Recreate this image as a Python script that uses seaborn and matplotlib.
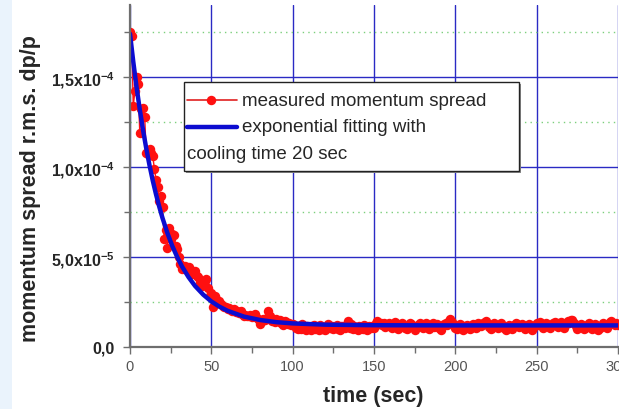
import numpy as np
import pandas as pd
import matplotlib
matplotlib.use("Agg")
import matplotlib.pyplot as plt
import seaborn as sns
from matplotlib.patches import Rectangle
from matplotlib.lines import Line2D

sns.set_style("white")
plt.rcParams['font.family'] = ['Liberation Sans', 'DejaVu Sans']
plt.rcParams['mathtext.fontset'] = 'custom'
plt.rcParams['mathtext.rm'] = 'Liberation Sans'
plt.rcParams['mathtext.bf'] = 'Liberation Sans:bold'
plt.rcParams['mathtext.default'] = 'bf'

# measured momentum spread, units of 1e-5, one sample per second (t = 0..300 s)
measured_early = [17.5, 17.3, 13.4, 14.2, 15.0, 14.6, 11.9, 13.2, 13.3, 12.8,
                  10.8, 10.7, 11.0, 10.8, 10.6, 9.9, 9.3, 8.9, 8.1, 8.4,
                  7.8, 6.0, 6.5, 5.5, 6.6, 6.0, 6.3, 6.2, 5.6, 5.45,
                  5.0, 4.6, 4.35, 4.45, 4.5, 4.3, 4.45, 4.1, 4.05, 4.2,
                  4.2, 3.95, 3.9, 3.6, 3.4]
measured_mid = [3.5, 3.65, 3.8, 3.3, 2.85, 3.0, 2.2, 2.85, 2.65, 2.5,
                2.55, 2.4, 2.3, 2.25, 2.2, 2.1, 2.15, 2.05, 2.0, 2.1,
                1.95, 2.0, 1.9, 2.0, 1.85, 1.7, 1.8, 1.75, 1.7, 1.8,
                1.65, 1.75, 1.85, 1.6, 1.5, 1.28, 1.45, 1.55, 1.5, 1.6,
                2.0, 1.7, 1.45, 1.5, 1.4, 1.55, 1.45, 1.5, 1.35, 1.2,
                1.45, 1.4, 1.3, 1.35, 1.25, 1.3]
measured_tail1 = [1.25, 1.08, 0.98, 1.18, 1.02, 1.3, 1.1, 0.95, 1.18, 1.06,
                  0.92, 1.14, 1.25, 1.02, 1.1, 0.97, 1.2, 1.02, 1.12, 0.95,
                  1.18, 1.28, 1.04, 1.14, 0.98, 1.1, 1.2, 1.02, 0.94, 1.14,
                  1.14, 1.04, 1.18, 1.45, 1.08, 1.28, 1.02, 1.14, 1.04, 0.96,
                  1.18, 1.08, 1.0, 1.2, 1.08, 0.96, 1.14, 1.04, 1.18, 1.05]
measured_tail2 = [1.35, 1.42, 1.28, 1.35, 1.2, 1.32, 1.12, 1.24, 1.35, 1.18,
                  1.06, 1.28, 1.38, 1.2, 1.0, 1.14, 1.32, 1.24, 1.06, 0.98,
                  1.18, 1.36, 1.28, 1.1, 0.95, 1.14, 1.25, 1.36, 1.18, 1.04,
                  1.2, 1.32, 1.14, 1.0, 1.24, 1.36, 1.1, 1.2, 1.3, 1.06,
                  0.96, 1.14, 1.28, 1.36, 1.2, 1.42, 1.55, 1.4, 1.2, 1.06,
                  1.0, 1.18, 1.28, 1.1, 0.95, 1.14, 1.25, 1.06, 0.98, 1.18,
                  1.3, 1.2, 1.06, 1.36, 1.24, 1.14, 1.32, 1.4, 1.46, 1.28,
                  1.1, 1.0, 1.2, 1.32, 1.14, 1.04, 1.24, 1.36, 1.18, 1.06,
                  0.95, 1.1, 1.24, 1.14, 1.0, 1.2, 1.36, 1.28, 1.1, 1.18,
                  1.3, 1.14, 1.0, 1.18, 1.28, 1.1, 0.95, 1.06, 1.2, 1.32,
                  1.24, 1.38, 1.2, 1.06, 1.28, 1.36, 1.18, 1.04, 1.2, 1.32,
                  1.4, 1.24, 1.1, 1.28, 1.38, 1.2, 1.06, 1.28, 1.44, 1.35,
                  1.48, 1.5, 1.35, 1.18, 1.0, 1.14, 1.28, 1.1, 0.98, 1.06,
                  1.2, 1.32, 1.14, 1.0, 1.18, 1.28, 1.1, 0.95, 1.06, 1.24,
                  1.36, 1.2, 1.06, 1.28, 1.4, 1.46, 1.35, 1.2, 1.32, 1.24]
measured = measured_early + measured_mid + measured_tail1 + measured_tail2

# exponential fit (cooling time 20 s), units of 1e-5
fit_t = [0, 2, 4, 6, 8, 10, 12, 14, 16, 18, 20, 23, 26, 29, 32, 36, 40, 45,
         50, 55, 60, 70, 80, 90, 100, 120, 150, 200, 300]
fit_v = [17.4, 15.86, 14.46, 13.2, 12.06, 11.03, 10.09, 9.24, 8.48, 7.79,
         7.16, 6.33, 5.61, 5.0, 4.47, 3.88, 3.39, 2.91, 2.53, 2.24, 2.01,
         1.69, 1.5, 1.38, 1.31, 1.24, 1.21, 1.2, 1.2]

x_ticks = [0, 50, 100, 150, 200, 250, 300]
x_minor = [25, 75, 125, 175, 225, 275]
y_ticks = [0.0, 5e-5, 1e-4, 1.5e-4]
y_minor = [2.5e-5, 7.5e-5, 1.25e-4, 1.75e-4]
y_tick_labels = ["0,0", "5,0x10$^{-5}$", "1,0x10$^{-4}$", "1,5x10$^{-4}$"]

W, H = 619, 410
fig = plt.figure(figsize=(W / 100, H / 100), dpi=100)
fig.patch.set_facecolor('white')
fig.add_artist(Rectangle((0, 0), 12 / W, 1, transform=fig.transFigure,
                         facecolor='#eaf3fc', edgecolor='none', zorder=0))

ax = fig.add_axes([130 / W, (H - 348) / H, 488 / W, 342 / H])

df = pd.DataFrame({'time': np.arange(len(measured)),
                   'spread': np.array(measured) * 1e-5})
dfit = pd.DataFrame({'time': fit_t, 'spread': np.array(fit_v) * 1e-5})

MS = 6.8
sns.lineplot(data=df, x='time', y='spread', ax=ax, color='#ff1010', lw=1.0,
             marker='o', markersize=MS, markeredgewidth=0, zorder=3)
sns.lineplot(data=dfit, x='time', y='spread', ax=ax, color='#0c0cd0', lw=3.2,
             zorder=4)

ax.set_xlim(0, 300)
ax.set_ylim(0, 1.9e-4)
ax.set_xticks(x_ticks)
ax.set_xticks(x_minor, minor=True)
ax.set_yticks(y_ticks)
ax.set_yticks(y_minor, minor=True)
ax.set_xticklabels([str(v) for v in x_ticks], color='#555555', fontsize=10.5)
ax.set_yticklabels(y_tick_labels, fontweight='bold', fontsize=11.5)

ax.set_axisbelow(True)
ax.grid(which='major', color='#2a2ac4', lw=1.0, ls='-')
ax.grid(which='minor', axis='y', color='#7ccf7c', lw=1.0, ls=(0, (1, 3)))

for s in ['top', 'right']:
    ax.spines[s].set_visible(False)
for s in ['left', 'bottom']:
    ax.spines[s].set_color('#6e6e6e')
    ax.spines[s].set_linewidth(1.6)
    ax.spines[s].set_zorder(5)

ax.tick_params(which='both', direction='out', color='#6e6e6e', width=1,
               left=True, bottom=True)
ax.tick_params(which='major', length=5, pad=4)
ax.tick_params(which='minor', length=4)
ax.tick_params(axis='y', which='major', pad=6)

ax.set_xlabel('time (sec)', fontsize=15.5, fontweight='bold')
ax.set_ylabel('momentum spread r.m.s. dp/p', fontsize=15.5, fontweight='bold')
ax.xaxis.set_label_coords((373 - 130) / 488, (348 - 386) / 342)
ax.yaxis.set_label_coords((41 - 130) / 488, (348 - 189) / 342)

# legend box
def fx(px):
    return (px - 130) / 488

def fy(py):
    return (348 - py) / 342

tr = ax.transAxes
ax.add_patch(Rectangle((fx(186), fy(174)), fx(521) - fx(186), fy(85) - fy(174),
                       transform=tr, facecolor='#8a8a8a', edgecolor='none',
                       zorder=9, clip_on=False))
ax.add_patch(Rectangle((fx(184), fy(172)), fx(519) - fx(184), fy(83) - fy(172),
                       transform=tr, facecolor='white', edgecolor='#222222',
                       lw=1.0, zorder=10, clip_on=False))
ax.add_line(Line2D([fx(187), fx(237)], [fy(101), fy(101)], transform=tr,
                   color='#e02020', lw=1.2, zorder=11))
ax.add_line(Line2D([fx(211)], [fy(101)], transform=tr, color='#ff1010',
                   marker='o', markersize=MS, markeredgewidth=0, zorder=12))
ax.add_line(Line2D([fx(187), fx(237)], [fy(128), fy(128)], transform=tr,
                   color='#0c0cd0', lw=3.2, zorder=11))
ax.text(fx(242), fy(101), 'measured momentum spread', transform=tr,
        fontsize=13.5, va='center', ha='left', zorder=12)
ax.text(fx(242), fy(128), 'exponential fitting with', transform=tr,
        fontsize=13.5, va='center', ha='left', zorder=12)
ax.text(fx(187), fy(155), 'cooling time 20 sec', transform=tr,
        fontsize=13.5, va='center', ha='left', zorder=12)

fig.savefig('out.png', dpi=100)
